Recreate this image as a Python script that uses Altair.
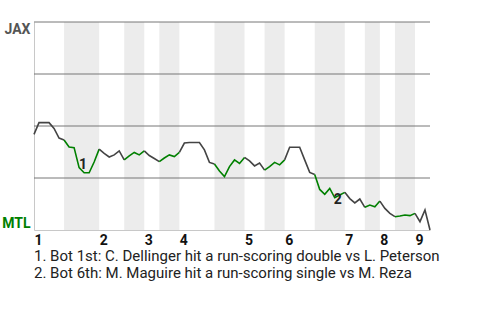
import altair as alt
import pandas as pd

# JAX win probability (%) after each event
win_prob = [46.0, 51.6, 51.6, 51.6, 48.8, 44.2, 43.3, 39.9, 39.6, 30.0,
            27.5, 27.5, 32.7, 38.9, 36.8, 35.1, 36.1, 38.0, 33.7, 35.6,
            37.3, 36.1, 38.0, 35.8, 34.4, 32.9, 34.6, 36.1, 35.3, 37.3,
            41.8, 42.1, 42.1, 42.1, 38.5, 32.5, 31.7, 28.4, 25.7, 30.5,
            33.7, 32.0, 34.9, 33.2, 30.8, 32.2, 28.8, 30.5, 32.5, 31.3,
            33.7, 39.8, 39.8, 39.8, 33.7, 27.7, 26.7, 19.5, 17.2, 20.0,
            15.5, 16.8, 18.1, 15.1, 13.0, 14.9, 10.9, 12.0, 11.2, 13.9,
            10.4, 8.0, 6.4, 6.7, 7.2, 6.9, 8.0, 4.0, 9.6, 0.0]

# event index where each half-inning starts (last value = final event)
half_bounds = [0, 6, 13, 18, 22, 25, 29, 36, 42, 46, 50, 56, 62, 66, 69, 72, 76, 79]
inning_labels = ["1", "2", "3", "4", "5", "6", "7", "8", "9"]
teams = ["JAX", "MTL"]
team_colors = ["#444444", "#008000"]
grid_vals = [25, 50, 75, 100]

note_marks = ["1", "2"]
note_x = [9.8, 60.6]
note_y = [31.4, 14.5]
notes = ["1. Bot 1st: C. Dellinger hit a run-scoring double vs L. Peterson",
         "2. Bot 6th: M. Maguire hit a run-scoring single vs M. Reza"]

# ---- build tables ----
rows = []
for k in range(len(half_bounds) - 1):
    a, b = half_bounds[k], half_bounds[k + 1]
    bat = teams[k % 2]
    for i in range(a, b + 1):
        rows.append({"event": i, "wp": win_prob[i], "seg": k, "bat": bat})
line_df = pd.DataFrame(rows)

bands_df = pd.DataFrame({
    "start": [half_bounds[k] for k in range(1, len(half_bounds) - 1, 2)],
    "end": [half_bounds[k + 1] for k in range(1, len(half_bounds) - 1, 2)],
})
inning_starts = [half_bounds[k] for k in range(0, len(half_bounds) - 1, 2)]
grid_df = pd.DataFrame({"g": grid_vals})
ann_df = pd.DataFrame({"x": note_x, "y": note_y, "t": note_marks})

xs = alt.Scale(domain=[0, half_bounds[-1]], nice=False, zero=False)
ys = alt.Scale(domain=[0, 100], nice=False)

FONT = "Roboto"

x_label_expr = "''"
for v, lab in reversed(list(zip(inning_starts, inning_labels))):
    x_label_expr = "datum.value == %d ? '%s' : (%s)" % (v, lab, x_label_expr)

x_axis = alt.Axis(
    title=None, values=inning_starts, grid=False, ticks=False,
    domainColor="#c8c8c8", labelAlign="left", labelBaseline="top",
    labelPadding=3, labelFont=FONT, labelFontSize=14, labelFontWeight="bold",
    labelColor="#111111", labelOverlap=False, labelExpr=x_label_expr)

y_axis = alt.Axis(
    title=None, values=[0, 100], grid=False, ticks=False,
    domainColor="#c8c8c8", labelFlush=True, labelPadding=4,
    labelFont=FONT, labelFontSize=14, labelFontWeight="bold",
    labelExpr="datum.value == 100 ? '" + teams[0] + "' : '" + teams[1] + "'",
    labelColor={"condition": {"test": "datum.value == 0", "value": team_colors[1]},
                "value": "#555555"})

bands = alt.Chart(bands_df).mark_rect(color="#ececec").encode(
    x=alt.X("start:Q", scale=xs, axis=x_axis),
    x2="end:Q",
)

grid = alt.Chart(grid_df).mark_rule(color="#777777", strokeWidth=1).encode(
    y=alt.Y("g:Q", scale=ys, axis=y_axis)
)

line = alt.Chart(line_df).mark_line(strokeWidth=1.6).encode(
    x=alt.X("event:Q", scale=xs, axis=x_axis),
    y=alt.Y("wp:Q", scale=ys, axis=y_axis),
    color=alt.Color("bat:N", scale=alt.Scale(domain=teams, range=team_colors), legend=None),
    detail="seg:N",
    order="event:Q",
)

ann = alt.Chart(ann_df).mark_text(font=FONT, fontSize=14, fontWeight="bold",
                                  color="#222222", align="center", baseline="middle").encode(
    x=alt.X("x:Q", scale=xs, axis=x_axis),
    y=alt.Y("y:Q", scale=ys, axis=y_axis),
    text="t:N",
)

chart = alt.layer(bands, grid, line, ann).properties(
    width=396, height=208,
    autosize=alt.AutoSizeParams(type="none"),
    padding={"left": 34, "top": 22, "right": 50, "bottom": 90},
    title=alt.TitleParams(text=notes, orient="bottom", anchor="start", frame="group",
                          font=FONT, fontSize=15, fontWeight="normal", color="#222222",
                          lineHeight=17, offset=2),
).configure_view(stroke=None)
chart = chart.properties(background="white")

chart.save("out.html", embed_options={"renderer": "svg", "actions": False})
